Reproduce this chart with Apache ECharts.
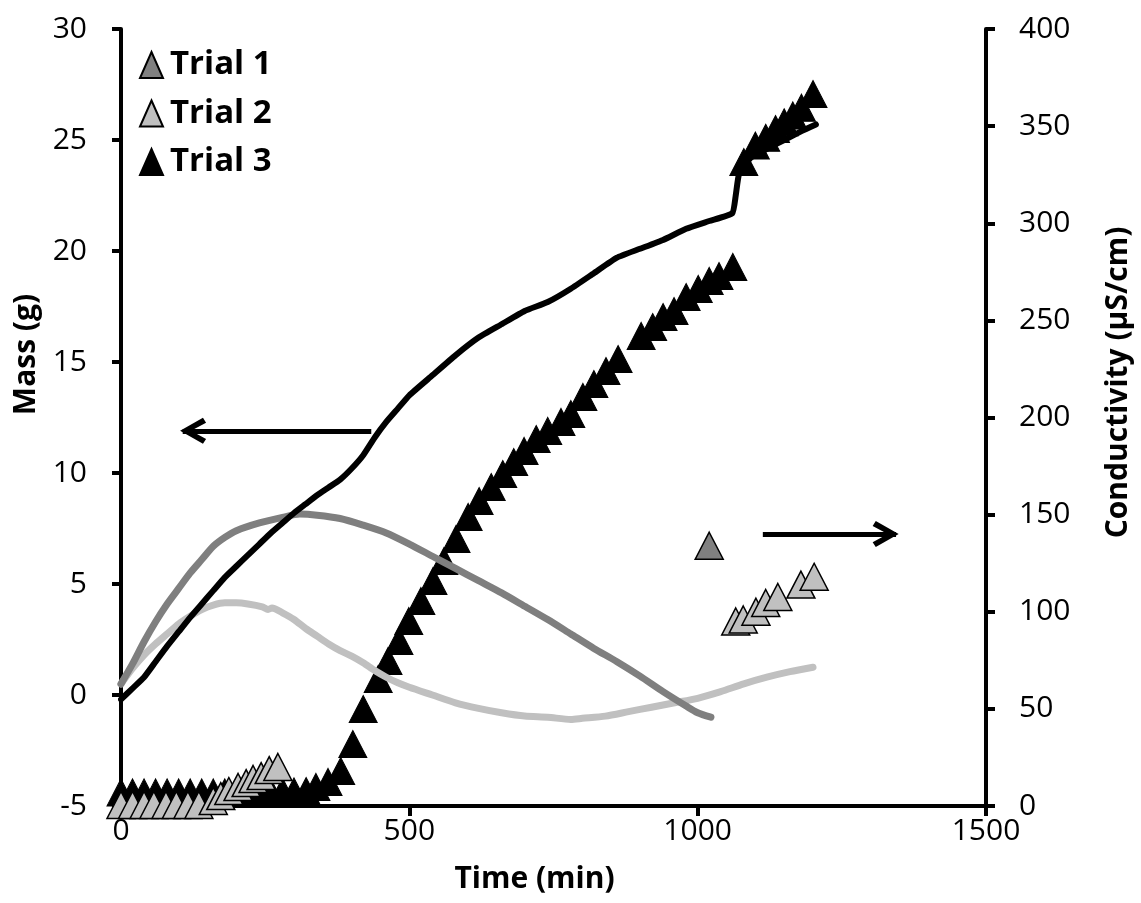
<!DOCTYPE html>
<html>
<head>
<meta charset="utf-8">
<title>Mass and conductivity vs time</title>
<script src="https://cdn.jsdelivr.net/npm/echarts@6/dist/echarts.min.js"></script>
<style>
  html, body { margin: 0; padding: 0; background: #ffffff; }
  #chart { width: 1141px; height: 903px; }
</style>
</head>
<body>
<div id="chart"></div>
<script>
// Mass (g) over time (min), one curve per trial
const trial1Mass = [
  [0, 0.5], [20, 1.4], [40, 2.4], [60, 3.3], [80, 4.1], [100, 4.8], [120, 5.5],
  [140, 6.1], [160, 6.7], [180, 7.1], [200, 7.4], [240, 7.75], [280, 8.0],
  [310, 8.15], [340, 8.1], [380, 7.95], [420, 7.65], [460, 7.3], [500, 6.8],
  [540, 6.25], [580, 5.7], [620, 5.15], [660, 4.6], [700, 4.0], [740, 3.4],
  [780, 2.75], [820, 2.1], [860, 1.5], [900, 0.85], [940, 0.15], [980, -0.5],
  [1000, -0.8], [1023, -1.0]
];
const trial2Mass = [
  [0, 0.5], [20, 1.2], [40, 1.8], [60, 2.3], [80, 2.75], [100, 3.2], [120, 3.55],
  [140, 3.85], [160, 4.05], [180, 4.15], [200, 4.15], [220, 4.1], [245, 3.97],
  [255, 3.85], [262, 3.92], [280, 3.7], [300, 3.4], [320, 3.0], [340, 2.65],
  [360, 2.3], [380, 2.0], [400, 1.75], [420, 1.45], [440, 1.1], [460, 0.8],
  [480, 0.55], [500, 0.35], [540, 0.0], [580, -0.35], [620, -0.6], [660, -0.8],
  [700, -0.95], [740, -1.0], [780, -1.1], [800, -1.05], [840, -0.95],
  [880, -0.75], [920, -0.55], [960, -0.35], [1000, -0.15], [1040, 0.15],
  [1080, 0.5], [1120, 0.8], [1160, 1.05], [1200, 1.25]
];
const trial3Mass = [
  [0, -0.2], [20, 0.3], [40, 0.8], [60, 1.5], [80, 2.2], [100, 2.85], [120, 3.5],
  [140, 4.1], [160, 4.7], [180, 5.3], [200, 5.8], [220, 6.3], [240, 6.8],
  [260, 7.3], [280, 7.75], [300, 8.2], [320, 8.6], [340, 9.0], [360, 9.35],
  [380, 9.7], [400, 10.2], [420, 10.8], [440, 11.6], [460, 12.3], [480, 12.9],
  [500, 13.5], [540, 14.4], [580, 15.3], [620, 16.1], [660, 16.7], [700, 17.3],
  [740, 17.7], [780, 18.3], [820, 19.0], [860, 19.7], [900, 20.1], [940, 20.5],
  [980, 21.0], [1020, 21.35], [1060, 21.7], [1066, 22.5], [1072, 23.5],
  [1092, 24.2], [1120, 24.6], [1150, 25.0], [1180, 25.4], [1205, 25.7]
];

// Conductivity (µS/cm) over time (min), one marker set per trial
const trial1Cond = [
  [1020, 134]
];
const trial2Cond = [
  [0, 0.5], [20, 0.5], [40, 0.5], [57, 0.5], [78, 0.5], [96, 0.5], [116, 0.5],
  [135, 0.5], [160, 2.6], [173, 5.1], [187, 7.7], [203, 9.8], [217, 11.8],
  [229, 13.9], [243, 15.4], [257, 18.5], [272, 20.1],
  [1066, 95], [1079, 96], [1101, 100], [1118, 104.5], [1139, 107.6],
  [1179, 114], [1202, 118]
];
const trial3Cond = [
  [0, 7], [20, 7], [40, 7], [60, 7], [80, 7], [100, 7], [120, 7], [140, 7],
  [160, 7], [180, 7], [200, 7], [220, 7], [240, 7], [260, 7], [280, 7.5],
  [300, 7.5], [321, 7.7], [338, 9.8], [359, 12.4], [381, 18.0], [402, 31.9],
  [420, 49.9], [446, 65.4], [463, 74.6], [482, 84.9], [499, 95.2], [520, 105.5],
  [541, 115.8], [560, 126.1], [581, 137.5], [602, 148.8], [621, 157.0],
  [642, 164.2], [662, 170.9], [681, 177.1], [699, 182.8], [720, 188.9],
  [740, 193.1], [763, 197.7], [780, 201.8], [801, 210.6], [820, 217.2],
  [841, 223.9], [862, 230.1], [902, 242.0], [922, 246.6], [940, 251.7],
  [959, 254.8], [980, 262.0], [1001, 266.2], [1020, 270.3], [1037, 272.8],
  [1061, 277.5], [1080, 331.5], [1100, 340], [1118, 344], [1135, 348.5],
  [1150, 352], [1165, 355.5], [1180, 359.5], [1200, 366.5]
];

// Axis ranges
const timeAxis = { min: 0, max: 1500, interval: 500 };
const massAxis = { min: -5, max: 30, interval: 5 };
const condAxis = { min: 0, max: 400, interval: 50 };

// Guide arrows: [tail time, tip time, mass level]
const massArrow = [434, 104, 11.9];
const condArrow = [1113, 1347, 7.25];

const FONT = "'Open Sans', sans-serif";
// open arrow head pointing up; rotated along the line by the markLine
const chevron = 'path://M0,22 L12,0 L24,22 L19.5,25 L12,10.5 L4.5,25 Z';
const headHalf = 21; // half of the arrow head length, in minutes

function arrowLines(a) {
  const dir = a[1] > a[0] ? 1 : -1;
  const centre = a[1] - dir * headHalf;
  return [
    [{ coord: [a[0], a[2]], symbol: 'none' }, { coord: [a[1] - dir * 3, a[2]], symbol: 'none' }],
    [{ coord: [centre - dir * 5, a[2]], symbol: 'none' },
     { coord: [centre, a[2]], symbol: chevron, symbolSize: [26, 26] }]
  ];
}

const axisLineStyle = { color: '#000', width: 4 };
const tickStyle = { color: '#000', width: 4 };
const plainNumber = (v) => String(v);

const chart = echarts.init(document.getElementById('chart'), null, { renderer: 'canvas' });
chart.setOption({
  animation: false,
  backgroundColor: '#ffffff',
  grid: { left: 121, right: 155, top: 29, bottom: 97, containLabel: false },
  legend: {
    orient: 'vertical',
    left: 134,
    top: 43,
    itemWidth: 23,
    itemHeight: 26,
    itemGap: 14.5,
    data: ['Trial 1', 'Trial 2', 'Trial 3'],
    textStyle: {
      fontFamily: FONT, fontSize: 33, fontWeight: 'bold', color: '#000',
      lineHeight: 34, padding: [0, 0, 0, 2]
    },
    selectedMode: false
  },
  xAxis: {
    type: 'value',
    min: timeAxis.min, max: timeAxis.max, interval: timeAxis.interval,
    name: 'Time (min)',
    nameLocation: 'middle',
    nameGap: 58,
    nameTextStyle: {
      fontFamily: FONT, fontSize: 30, fontWeight: 'bold', color: '#000',
      padding: [0, 38, 0, 0]
    },
    axisLine: { onZero: false, lineStyle: axisLineStyle },
    axisTick: { length: 10, lineStyle: tickStyle },
    axisLabel: { fontFamily: FONT, fontSize: 30, color: '#000', margin: 10, formatter: plainNumber },
    splitLine: { show: false }
  },
  yAxis: [
    {
      type: 'value', position: 'left',
      min: massAxis.min, max: massAxis.max, interval: massAxis.interval,
      name: 'Mass (g)',
      nameLocation: 'middle',
      nameRotate: 90,
      nameGap: 76,
      nameTextStyle: {
        fontFamily: FONT, fontSize: 30, fontWeight: 'bold', color: '#000',
        padding: [0, 0, 0, 126]
      },
      axisLine: { show: true, onZero: false, lineStyle: axisLineStyle },
      axisTick: { show: true, length: 9, lineStyle: tickStyle },
      axisLabel: { fontFamily: FONT, fontSize: 30, color: '#000', margin: 34, formatter: plainNumber },
      splitLine: { show: false }
    },
    {
      type: 'value', position: 'right',
      min: condAxis.min, max: condAxis.max, interval: condAxis.interval,
      name: 'Conductivity (µS/cm)',
      nameLocation: 'middle',
      nameRotate: 90,
      nameGap: 117,
      nameTextStyle: {
        fontFamily: FONT, fontSize: 30, fontWeight: 'bold', color: '#000',
        padding: [0, 0, 0, 70]
      },
      axisLine: { show: true, onZero: false, lineStyle: axisLineStyle },
      axisTick: { show: true, length: 9, lineStyle: tickStyle },
      axisLabel: { fontFamily: FONT, fontSize: 30, color: '#000', margin: 33, formatter: plainNumber },
      splitLine: { show: false }
    }
  ],
  series: [
    {
      name: 'Trial 2 mass', type: 'line', yAxisIndex: 0, data: trial2Mass,
      showSymbol: false, smooth: 0.25,
      lineStyle: { color: '#c0c0c0', width: 7, cap: 'round', join: 'round' },
      itemStyle: { color: '#c0c0c0' }
    },
    {
      name: 'Trial 1 mass', type: 'line', yAxisIndex: 0, data: trial1Mass,
      showSymbol: false, smooth: 0.25,
      lineStyle: { color: '#7f7f7f', width: 7, cap: 'round', join: 'round' },
      itemStyle: { color: '#7f7f7f' }
    },
    {
      name: 'Trial 3 mass', type: 'line', yAxisIndex: 0, data: trial3Mass,
      showSymbol: false, smooth: 0.15,
      lineStyle: { color: '#000000', width: 6, cap: 'round', join: 'round' },
      itemStyle: { color: '#000000' },
      markLine: {
        silent: true,
        animation: false,
        label: { show: false },
        emphasis: { disabled: true },
        lineStyle: { color: '#000', width: 5, type: 'solid' },
        itemStyle: { color: '#000' },
        data: arrowLines(massArrow).concat(arrowLines(condArrow))
      }
    },
    {
      name: 'Trial 3', type: 'scatter', yAxisIndex: 1, data: trial3Cond,
      symbol: 'triangle', symbolSize: [28, 27],
      itemStyle: { color: '#000000', borderColor: '#000000', borderWidth: 1, opacity: 1 }
    },
    {
      name: 'Trial 2', type: 'scatter', yAxisIndex: 1, data: trial2Cond,
      symbol: 'triangle', symbolSize: [28, 27],
      itemStyle: { color: '#c0c0c0', borderColor: '#000000', borderWidth: 1.5, opacity: 1 }
    },
    {
      name: 'Trial 1', type: 'scatter', yAxisIndex: 1, data: trial1Cond,
      symbol: 'triangle', symbolSize: [28, 27],
      itemStyle: { color: '#808080', borderColor: '#000000', borderWidth: 1.5, opacity: 1 }
    }
  ]
});
</script>
</body>
</html>
